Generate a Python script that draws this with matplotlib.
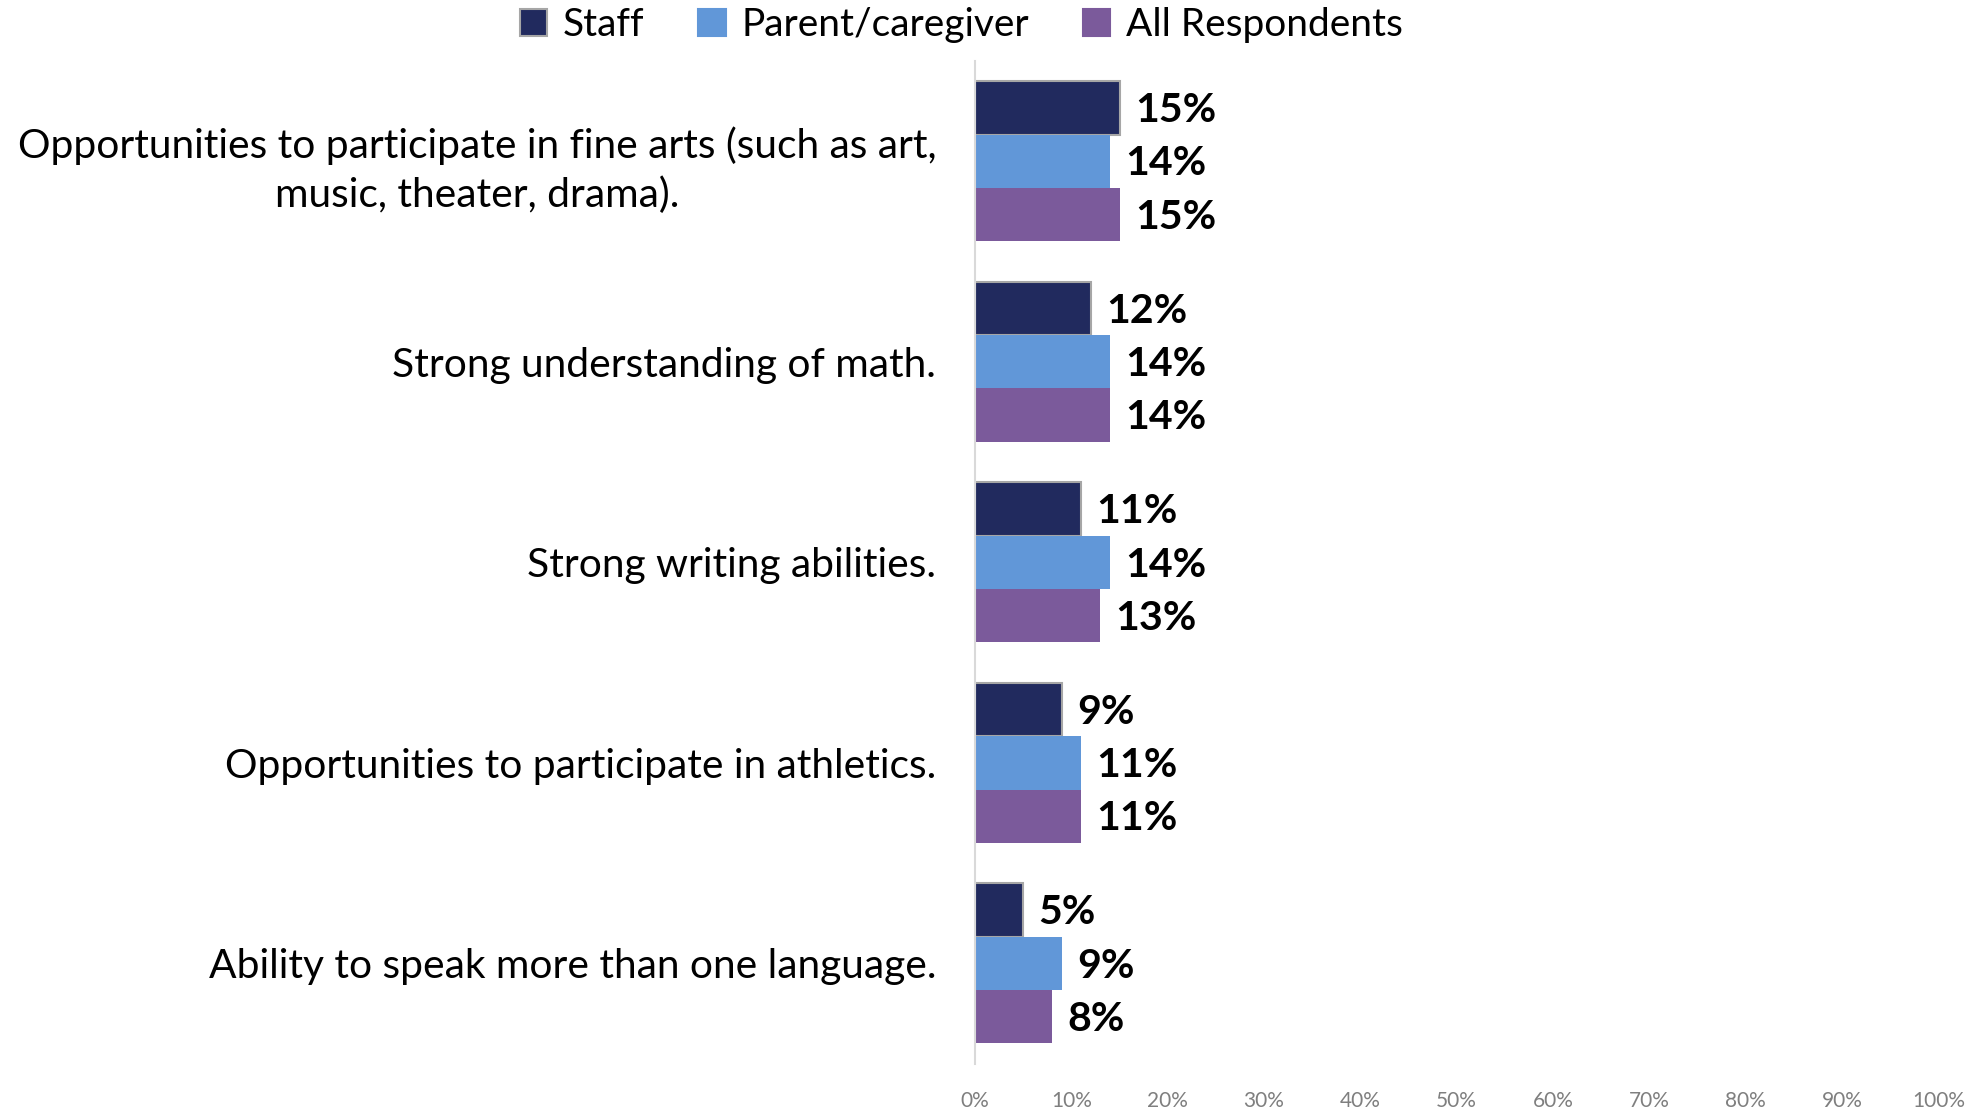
import numpy as np
import matplotlib
matplotlib.use("Agg")
import matplotlib.pyplot as plt
from matplotlib.patches import Patch

plt.rcParams['font.family'] = ['Lato', 'DejaVu Sans']

categories = [
    "Opportunities to participate in fine arts (such as art,\nmusic, theater, drama).",
    "Strong understanding of math.",
    "Strong writing abilities.",
    "Opportunities to participate in athletics.",
    "Ability to speak more than one language.",
]
series_names = ["Staff", "Parent/caregiver", "All Respondents"]
staff = [15, 12, 11, 9, 5]
parent = [14, 14, 14, 11, 9]
all_resp = [15, 14, 13, 11, 8]
x_ticks = [0, 10, 20, 30, 40, 50, 60, 70, 80, 90, 100]

colors = ["#212a5e", "#6197d8", "#7b5a9b"]
edges = ["#a6a6a6", "none", "none"]

fig = plt.figure(figsize=(19.86, 11.08), dpi=100)
ax = fig.add_axes([0.491, 0.040, 0.485, 0.905])

n = len(categories)
y = np.arange(n)
bar_h = 0.266
values = [staff, parent, all_resp]

for i, (vals, col, ec) in enumerate(zip(values, colors, edges)):
    pos = y + (i - 1) * bar_h
    ax.barh(pos, vals, height=bar_h, color=col,
            edgecolor=ec, linewidth=1.5 if ec != "none" else 0)
    for p, v in zip(pos, vals):
        ax.annotate(f"{v}%", (v, p), xytext=(11, -2), textcoords="offset points",
                    ha="left", va="center", fontsize=29.5, fontweight="bold",
                    color="black")

ax.set_ylim(n - 0.5, -0.5)
ax.set_xlim(0, 100)
ax.set_yticks(y)
ax.set_yticklabels(categories, fontsize=29.3, multialignment="center",
                   linespacing=1.38)
ax.tick_params(axis="y", length=0, pad=28)
ax.set_xticks(x_ticks)
ax.set_xticklabels([f"{t}%" for t in x_ticks], fontsize=15, color="#7f7f7f")
ax.tick_params(axis="x", length=0, pad=20)

for s in ["top", "right", "bottom"]:
    ax.spines[s].set_visible(False)
ax.spines["left"].set_color("#d9d9d9")
ax.spines["left"].set_linewidth(1.5)

handles = [Patch(facecolor=c, edgecolor=e if e != "none" else c, linewidth=1.5)
           for c, e in zip(colors, edges)]
fig.legend(handles, series_names, loc="upper center", bbox_to_anchor=(0.484, 1.025),
           ncol=3, frameon=False, fontsize=28, handlelength=0.7, handleheight=0.7,
           handletextpad=0.4, columnspacing=1.4)

fig.savefig("out.png", dpi=100)
